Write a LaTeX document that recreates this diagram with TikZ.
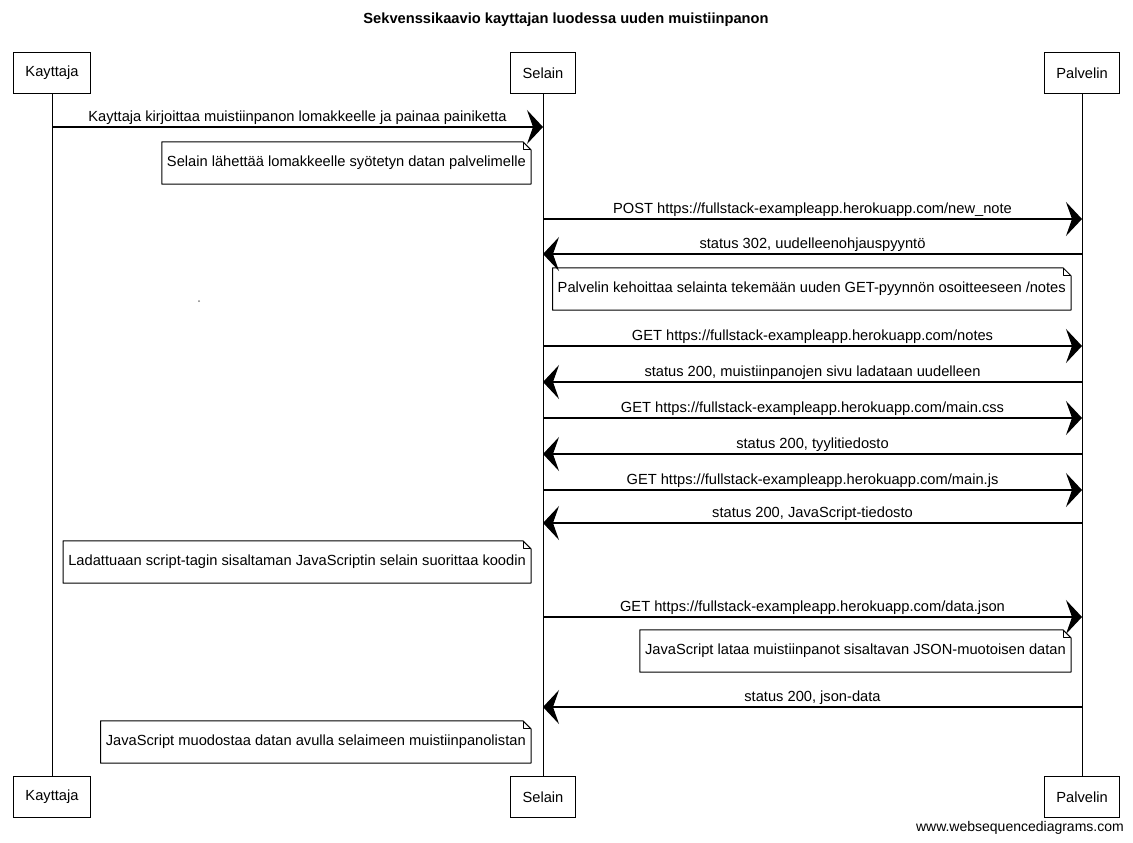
\documentclass[tikz,border=0pt]{standalone}
\usepackage{fontspec}
\setmainfont{Liberation Sans}
\usetikzlibrary{arrows.meta}

% note with a folded top-right corner: name, right edge x, centre y, text
\newcommand\sqnote[4]{%
  \node[notetext, anchor=east] (#1) at (#2,#3) {#4};
  \draw[noteline] (#1.north west) -- ([xshift=-8pt]#1.north east)
    -- ([yshift=-8pt]#1.north east) -- (#1.south east) -- (#1.south west) -- cycle;
  \draw[noteline] ([xshift=-8pt]#1.north east) -- ([xshift=-8pt,yshift=-8pt]#1.north east)
    -- ([yshift=-8pt]#1.north east);
}

\begin{document}
\begin{tikzpicture}[x=1pt,y=-1pt,
  txt/.style={font=\fontsize{14.67}{17}\selectfont},
  actor/.style={draw, line width=1pt, txt, minimum height=41pt, inner xsep=12pt, inner ysep=0pt},
  lifeline/.style={line width=1pt},
  msg/.style={line width=1.3pt, -{Stealth[length=16pt,width=34pt,inset=6pt]}},
  lbl/.style={txt, inner sep=0pt, above=2pt},
  notetext/.style={txt, inner xsep=5pt, inner ysep=0pt, minimum height=42pt},
  noteline/.style={line width=1pt, line join=round},
]
\useasboundingbox (0,0) rectangle (1133,843);

% title
\node[font=\bfseries\fontsize{14.67}{17}\selectfont] (title) at (566,20)
  {Sekvenssikaavio kayttajan luodessa uuden muistiinpanon};

% participants, top and bottom
\node[actor] (k1) at (52,73) {Kayttaja};
\node[actor] (s1) at (543,73) {Selain};
\node[actor] (p1) at (1082,73) {Palvelin};
\node[actor] (k2) at (52,797) {Kayttaja};
\node[actor] (s2) at (543,797) {Selain};
\node[actor] (p2) at (1082,797) {Palvelin};

% lifelines
\draw[lifeline] (k1.south) -- (k2.north);
\draw[lifeline] (s1.south) -- (s2.north);
\draw[lifeline] (p1.south) -- (p2.north);

% message end points on the lifelines
\coordinate (k-a) at (52,127);   \coordinate (s-a) at (543,127);
\coordinate (s-b) at (543,219);  \coordinate (p-b) at (1082,219);
\coordinate (p-c) at (1082,254); \coordinate (s-c) at (543,254);
\coordinate (s-d) at (543,346);  \coordinate (p-d) at (1082,346);
\coordinate (p-e) at (1082,382); \coordinate (s-e) at (543,382);
\coordinate (s-f) at (543,418);  \coordinate (p-f) at (1082,418);
\coordinate (p-g) at (1082,454); \coordinate (s-g) at (543,454);
\coordinate (s-h) at (543,490);  \coordinate (p-h) at (1082,490);
\coordinate (p-i) at (1082,523); \coordinate (s-i) at (543,523);
\coordinate (s-j) at (543,617);  \coordinate (p-j) at (1082,617);
\coordinate (p-k) at (1082,707); \coordinate (s-k) at (543,707);

% messages
\draw[msg] (k-a) -- node[lbl] {Kayttaja kirjoittaa muistiinpanon lomakkeelle ja painaa painiketta} (s-a);
\draw[msg] (s-b) -- node[lbl] {POST https://fullstack-exampleapp.herokuapp.com/new\_note} (p-b);
\draw[msg] (p-c) -- node[lbl] {status 302, uudelleenohjauspyyntö} (s-c);
\draw[msg] (s-d) -- node[lbl] {GET https://fullstack-exampleapp.herokuapp.com/notes} (p-d);
\draw[msg] (p-e) -- node[lbl] {status 200, muistiinpanojen sivu ladataan uudelleen} (s-e);
\draw[msg] (s-f) -- node[lbl] {GET https://fullstack-exampleapp.herokuapp.com/main.css} (p-f);
\draw[msg] (p-g) -- node[lbl] {status 200, tyylitiedosto} (s-g);
\draw[msg] (s-h) -- node[lbl] {GET https://fullstack-exampleapp.herokuapp.com/main.js} (p-h);
\draw[msg] (p-i) -- node[lbl] {status 200, JavaScript-tiedosto} (s-i);
\draw[msg] (s-j) -- node[lbl] {GET https://fullstack-exampleapp.herokuapp.com/data.json} (p-j);
\draw[msg] (p-k) -- node[lbl] {status 200, json-data} (s-k);

% notes
\sqnote{n1}{531}{163}{Selain lähettää lomakkeelle syötetyn datan palvelimelle}
\sqnote{n2}{1071}{289}{Palvelin kehoittaa selainta tekemään uuden GET-pyynnön osoitteeseen /notes}
\sqnote{n3}{531}{562}{Ladattuaan script-tagin sisaltaman JavaScriptin selain suorittaa koodin}
\sqnote{n4}{1071}{651}{JavaScript lataa muistiinpanot sisaltavan JSON-muotoisen datan}
\sqnote{n5}{531}{742}{JavaScript muodostaa datan avulla selaimeen muistiinpanolistan}

% small speck
\fill[gray] (199,301) circle (1);

% credit line
\node[anchor=east, font=\fontsize{14}{16}\selectfont, inner sep=0pt] (credit) at (1124,828)
  {www.websequencediagrams.com};
\end{tikzpicture}
\end{document}
